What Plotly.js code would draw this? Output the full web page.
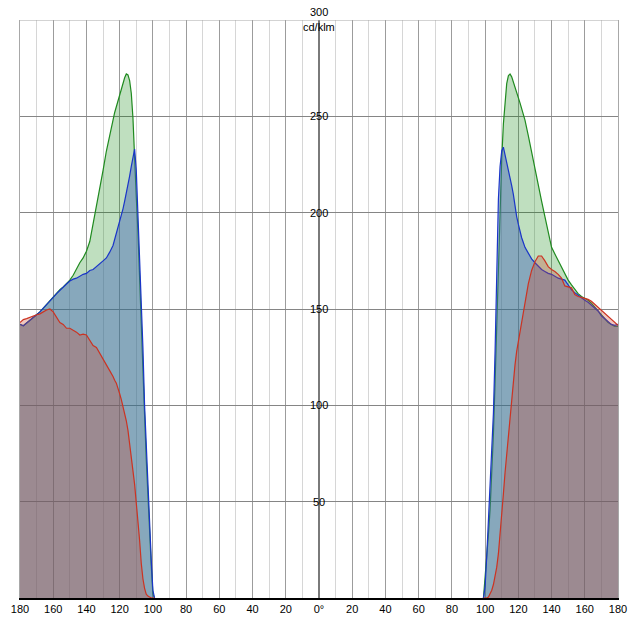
<!DOCTYPE html>
<html>
<head>
<meta charset="utf-8">
<script src="https://cdn.plot.ly/plotly-3.0.1.min.js"></script>
<style>html,body{margin:0;padding:0;background:#fff;}#chart{width:629px;height:618px;}</style>
</head>
<body>
<div id="chart"></div>
<script>
// Polar angle grid (degrees from nadir), same for both half-planes
const angles = [99,100,101,102,103,104,105,106,107,108,109,110,111,112,113,114,115,116,117,118,119,120,121,122,123,124,
  126,128,130,132,134,136,138,140,142,144,146,148,150,152,154,156,158,160,162,164,166,168,170,172,174,176,178,180];

// Left half-plane (drawn to the left of 0°)
const greenLeft = [0,2,17,33,50,72,95,120,148,170,190,208,230,249,262,268.5,271.5,272,270,267,264,261,258.5,256,252,248,
  240,232,222,213,203,193,185,180,176.5,174,170.5,167.5,165,163,161.5,160,158,156,154,152,150.5,148.5,147,145.5,144,142.5,141.3,142];
const blueLeft = [0,4,20,38,57,78,100,130,155,177,200,222,233,229,224,219,214,210,206,202,199,196,193,189,186,183,
  179.5,176.5,175,173.5,171.5,170.5,170,168.5,168,167,166,165.5,164.5,163,161.5,160,158,156,154,152,150.5,148.5,147,145.5,144,142.5,141.3,142];
const redLeft = [0,0,0,0.5,1,2,5,10,18,30,41,51,59,66,74,81,87,92,96,100,103,106,109,111.5,113,115,
  118,121,124,127.5,130,131,134,136.5,137,136.5,138,139,140,140,142,143,146,148.5,150,149.5,148.5,147.5,147,146.2,145.5,145,144.5,143];

// Right half-plane (drawn to the right of 0°)
const greenRight = [0,10,22,33,46,65,85,112,143,175,205,228,246,259,267,271,272,270.5,268,265,262.5,260,257,254,251,248,
  240,231,222,214,206,198,189.5,182,178.5,175,171.5,168,165,162.5,160,158,156.5,155.5,154.5,153,151,149,146.5,145,143,142,141,141];
const blueRight = [0,6,22,40,58,78,96,128,170,207,224,232,234,230,227,223.5,219,214,209.5,203,198,194,190,187,184.5,182,
  179,176,174,172,170.5,169.5,168.5,168,167,166,165.5,165,162.5,160,158.5,157,155.5,154.5,153.5,152,151,149,146.5,145,143.5,142,141.5,142];
const redRight = [0,0,0,0.5,2,4,7,11,16,23,32,43,54,65,75,85,95,104,113,121,128,133,138,143,147,152,
  163,170,174.5,177.5,177.5,175,172,170.5,169.5,168,166,162,161.5,161,157.5,156.5,156,155.5,155,154,152.5,151,149,147.5,146,144.5,143,141.5];

// Axis labels
const xTickVals = [-180,-160,-140,-120,-100,-80,-60,-40,-20,0,20,40,60,80,100,120,140,160,180];
const xTickText = ['180','160','140','120','100','80','60','40','20','0°','20','40','60','80','100','120','140','160','180'];
const yTickVals = [50,100,150,200,250];
const yMaxLabel = '300';
const unitLabel = 'cd/klm';

const FONT = 'Liberation Sans, Arial, sans-serif';
const series = [
  {name:'green', left:greenLeft, right:greenRight, line:'#1f8a1f', fill:'rgba(0,128,0,0.25)'},
  {name:'blue',  left:blueLeft,  right:blueRight,  line:'#1a35c8', fill:'rgba(67,101,184,0.45)'},
  {name:'red',   left:redLeft,   right:redRight,   line:'#cc3322', fill:'rgba(205,70,45,0.3)'}
];

const traces = [];
series.forEach(s => {
  traces.push({x: angles.map(a => -a), y: s.left, type:'scatter', mode:'lines', fill:'tozeroy',
    fillcolor:s.fill, line:{color:s.line, width:1.2}, hoverinfo:'skip', showlegend:false});
  traces.push({x: angles.slice(), y: s.right, type:'scatter', mode:'lines', fill:'tozeroy',
    fillcolor:s.fill, line:{color:s.line, width:1.2}, hoverinfo:'skip', showlegend:false});
});

const annotations = yTickVals.map(v => ({x:0, y:v, xref:'x', yref:'y', text:String(v), showarrow:false,
  xanchor:'center', yanchor:'middle', font:{family:FONT, size:11, color:'#000'}}));
annotations.push({x:0, y:1, xref:'x', yref:'paper', text:yMaxLabel, showarrow:false, xanchor:'center', yanchor:'bottom',
  yshift:0, font:{family:FONT, size:11, color:'#000'}});
annotations.push({x:0, y:300, xref:'x', yref:'y', text:unitLabel, showarrow:false, xanchor:'center', yanchor:'top',
  yshift:1, font:{family:FONT, size:11, color:'#000'}});

const layout = {
  width:629, height:618,
  margin:{l:20, r:11, t:20, b:20, pad:0},
  paper_bgcolor:'#fff', plot_bgcolor:'#fff',
  showlegend:false,
  font:{family:FONT, size:11, color:'#000'},
  xaxis:{range:[-180,180], tickmode:'array', tickvals:xTickVals, ticktext:xTickText, ticks:'',
    showgrid:true, gridcolor:'#9c9c9c', gridwidth:1,
    minor:{tickmode:'linear', tick0:0, dtick:10, showgrid:true, gridcolor:'#d6d6d6', gridwidth:1, ticks:''},
    zeroline:true, zerolinecolor:'#7a7a7a', zerolinewidth:2,
    showline:true, linecolor:'#000', linewidth:1.5, mirror:false,
    tickfont:{family:FONT, size:11, color:'#000'}, fixedrange:true},
  yaxis:{range:[0,300], tickmode:'array', tickvals:[0,50,100,150,200,250,300], showticklabels:false, ticks:'',
    showgrid:true, gridcolor:'#858585', gridwidth:1, zeroline:false,
    showline:true, linecolor:'#a8a8a8', linewidth:1, mirror:true, fixedrange:true},
  annotations: annotations,
  shapes:[{type:'line', xref:'paper', yref:'y', x0:0, x1:1, y0:300, y1:300, line:{color:'#a8a8a8', width:1}}]
};

Plotly.newPlot('chart', traces, layout, {staticPlot:true, displayModeBar:false});
</script>
</body>
</html>
